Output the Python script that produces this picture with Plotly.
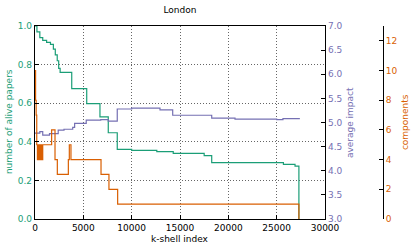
import plotly.graph_objects as go

# green: number of alive papers (left axis)
alive_k = [0, 200, 500, 800, 1200, 1600, 1900, 2100, 2300, 2450, 2600, 3800, 5350, 6720,
           7580, 8510, 10000, 12600, 14300, 17500, 18280, 25700, 26900, 27300]
alive_v = [1.0, 0.97, 0.94, 0.925, 0.915, 0.905, 0.88, 0.85, 0.82, 0.78, 0.76, 0.675, 0.598, 0.529,
           0.447, 0.361, 0.356, 0.349, 0.34, 0.328, 0.292, 0.283, 0.274, 0.0]

# purple: average impact (right axis)
impact_k = [0, 500, 800, 1500, 2400, 3000, 3900, 4100, 5300, 6800, 7580, 8510, 10000,
            12930, 14245, 18280, 20690, 25000, 25650, 27400]
impact_v = [4.78, 4.81, 4.74, 4.77, 4.84, 4.86, 4.90, 4.98, 5.05, 5.06, 5.03, 5.28, 5.30,
            5.26, 5.15, 5.09, 5.07, 5.06, 5.08, 5.08]

# orange: components (third axis)
comp_k = [0, 60, 120, 180, 250, 320, 360, 430, 500, 560, 640, 720, 780, 800, 1720, 2070,
          2310, 3450, 3550, 3720, 6830, 7650, 8550, 27300]
comp_v = [10, 8, 7, 5, 4, 5, 4, 5, 4, 5, 4, 5, 4, 5, 6, 4,
          3, 4, 5, 4, 3, 2, 1, 0]

x_ticks = [0, 5000, 10000, 15000, 20000, 25000, 30000]

GREEN = "#1b9e77"
PURPLE = "#7570b3"
ORANGE = "#d95f02"
FONT = "DejaVu Sans"

fig = go.Figure()
fig.add_trace(go.Scatter(x=alive_k, y=alive_v, mode="lines", line=dict(color=GREEN, width=1.2, shape="hv"),
                         yaxis="y", showlegend=False))
fig.add_trace(go.Scatter(x=impact_k, y=impact_v, mode="lines", line=dict(color=PURPLE, width=1.2, shape="hv"),
                         yaxis="y2", showlegend=False))
fig.add_trace(go.Scatter(x=comp_k, y=comp_v, mode="lines", line=dict(color=ORANGE, width=1.2, shape="hv"),
                         yaxis="y3", showlegend=False))

W, H = 415, 251
ml, mr, mt, mb = 35, 25, 25.5, 31.7
pw = W - ml - mr
ph = H - mt - mb
xdom = 290 / pw
y3pos = (382.7 - ml) / pw

def px_to_paper_x(px):
    return (px - ml) / pw

def px_to_paper_y(py):
    return (H - mb - py) / ph

grid = dict(showgrid=True, gridcolor="#666666", griddash="1px,2px", gridwidth=1)

fig.update_layout(
    width=W, height=H,
    margin=dict(l=ml, r=mr, t=mt, b=mb, pad=0),
    paper_bgcolor="white", plot_bgcolor="white",
    font=dict(family=FONT, size=9, color="black"),
    title=dict(text="London", x=(ml + 145) / W, xanchor="center", y=1 - 10 / H, yanchor="middle",
               font=dict(size=9, color="black")),
    xaxis=dict(domain=[0, xdom], range=[0, 30000], tickvals=x_ticks, ticktext=[str(v) for v in x_ticks],
               showline=True, linecolor="black", linewidth=1.2, mirror=True,
               ticks="inside", ticklen=4, tickcolor="black", automargin=False,
               zeroline=False, tickfont=dict(size=9, color="black"), **grid),
    yaxis=dict(range=[0, 1.0], tickvals=[0, 0.2, 0.4, 0.6, 0.8, 1.0], tickformat=".1f",
               showline=True, linecolor="black", linewidth=1.2,
               ticks="inside", ticklen=4, tickcolor="black", automargin=False,
               zeroline=False, tickfont=dict(size=9, color=GREEN), **grid),
    yaxis2=dict(range=[3.0, 7.0], tickvals=[3.0, 3.5, 4.0, 4.5, 5.0, 5.5, 6.0, 6.5, 7.0], tickformat=".1f",
                overlaying="y", side="right", anchor="x",
                showline=True, linecolor="black", linewidth=1.2,
                ticks="inside", ticklen=4, tickcolor="black", automargin=False,
                showgrid=False, zeroline=False, tickfont=dict(size=9, color=PURPLE)),
    yaxis3=dict(range=[0, 13], tickvals=[0, 2, 4, 6, 8, 10, 12],
                overlaying="y", side="right", anchor="free", position=y3pos,
                showline=True, linecolor="black", linewidth=1.2,
                ticks="inside", ticklen=4, tickcolor="black", automargin=False,
                showgrid=False, zeroline=False, tickfont=dict(size=9, color=ORANGE)),
    annotations=[
        dict(text="number of alive papers", x=px_to_paper_x(9), y=px_to_paper_y(122), xref="paper", yref="paper",
             textangle=-90, showarrow=False, xanchor="center", yanchor="middle", font=dict(size=9, color=GREEN)),
        dict(text="average impact", x=px_to_paper_x(350), y=px_to_paper_y(123), xref="paper", yref="paper",
             textangle=-90, showarrow=False, xanchor="center", yanchor="middle", font=dict(size=9, color=PURPLE)),
        dict(text="components", x=px_to_paper_x(405), y=px_to_paper_y(122), xref="paper", yref="paper",
             textangle=-90, showarrow=False, xanchor="center", yanchor="middle", font=dict(size=9, color=ORANGE)),
        dict(text="k-shell index", x=px_to_paper_x(180), y=px_to_paper_y(239), xref="paper", yref="paper",
             showarrow=False, xanchor="center", yanchor="middle", font=dict(size=9, color="black")),
    ],
)

fig.write_html("out.html",
               config={"displayModeBar": False, "staticPlot": True},
               post_script="document.body.style.margin='0';document.body.style.padding='0';"
                           "document.documentElement.style.overflow='hidden';")
